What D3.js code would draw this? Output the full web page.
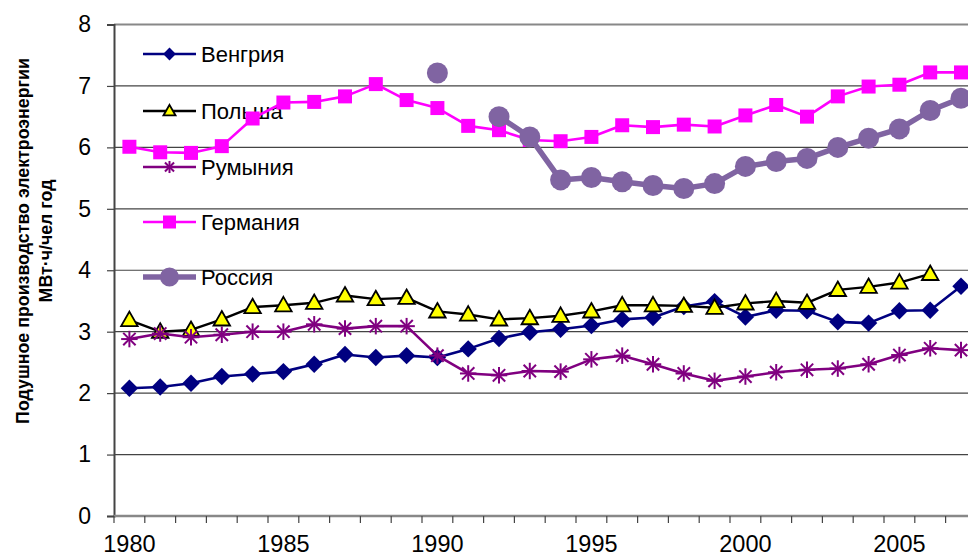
<!DOCTYPE html>
<html><head><meta charset="utf-8">
<script src="https://cdn.jsdelivr.net/npm/d3@7"></script>
<style>body{margin:0;background:#fff;} svg{display:block;}</style>
</head><body>
<svg id="c" width="968" height="558"></svg>
<script>
const years = d3.range(1980, 2008);
const hungary = [2.08,2.10,2.16,2.27,2.31,2.35,2.47,2.63,2.58,2.61,2.58,2.72,2.89,2.99,3.04,3.10,3.20,3.23,3.41,3.49,3.24,3.35,3.34,3.16,3.14,3.34,3.35,3.74];
const poland  = [3.19,3.00,3.03,3.20,3.40,3.43,3.47,3.59,3.53,3.55,3.33,3.28,3.20,3.22,3.26,3.33,3.43,3.43,3.42,3.39,3.46,3.50,3.47,3.68,3.73,3.80,3.94,null];
const romania = [2.88,2.97,2.91,2.95,3.00,3.00,3.12,3.05,3.09,3.09,2.61,2.32,2.29,2.36,2.35,2.55,2.61,2.47,2.32,2.20,2.27,2.34,2.38,2.40,2.47,2.62,2.73,2.70];
const germany = [6.01,5.92,5.91,6.02,6.47,6.73,6.74,6.83,7.03,6.77,6.64,6.35,6.28,6.12,6.10,6.17,6.36,6.33,6.37,6.34,6.52,6.69,6.50,6.83,6.99,7.02,7.22,7.22];
const russia  = [null,null,null,null,null,null,null,null,null,null,7.21,null,6.50,6.17,5.47,5.51,5.44,5.38,5.33,5.41,5.69,5.77,5.82,6.00,6.15,6.30,6.60,6.80];
const seriesNames = ["Венгрия","Польша","Румыния","Германия","Россия"];
const yTicks = [0,1,2,3,4,5,6,7,8];
const xLabelYears = [1980,1985,1990,1995,2000,2005];
const yTitle = ["Подушное производство электроэнергии","МВт·ч/чел год"];

const svg = d3.select("#c");
const font = "Liberation Sans, Arial, sans-serif";
const pLeft = 114, pTop = 24.5, pBottom = 516, step = 30.8;
const x = d3.scaleBand().domain(years).range([pLeft, pLeft + step*years.length]).paddingInner(0).paddingOuter(0);
const y = d3.scaleLinear().domain([0,8]).range([pBottom, pTop]);
const cx = yr => x(yr) + x.bandwidth()/2;

// gridlines
svg.append("g").selectAll("line").data(yTicks.filter(t=>t>0)).join("line")
  .attr("x1", pLeft).attr("x2", 968).attr("y1", d=>y(d)).attr("y2", d=>y(d))
  .attr("stroke", d=> d===8 ? "#888" : "#444").attr("stroke-width", d=> d===8?2.2:1.2);

// y axis
const ya = svg.append("g").attr("transform", `translate(${pLeft},0)`)
  .call(d3.axisLeft(y).tickValues(yTicks).tickSize(7).tickPadding(16).tickFormat(d3.format("d")));
ya.select(".domain").attr("stroke","#444").attr("stroke-width",2);
ya.selectAll(".tick line").attr("stroke","#444").attr("stroke-width",1.2);
ya.selectAll("text").attr("font-family", font).attr("font-size", 23).attr("fill","#000");

// x axis
const xg = svg.append("g").attr("transform", `translate(0,${pBottom})`);
xg.append("line").attr("x1", pLeft).attr("x2", 968).attr("y1",0).attr("y2",0).attr("stroke","#888").attr("stroke-width",2.5);
xg.selectAll("line.t").data(years).join("line").attr("class","t")
  .attr("x1", d=>x(d)).attr("x2", d=>x(d)).attr("y1",0).attr("y2",7).attr("stroke","#444").attr("stroke-width",1.2);
xg.selectAll("text").data(xLabelYears).join("text")
  .attr("x", d=>cx(d)).attr("y", 36).attr("text-anchor","middle")
  .attr("font-family", font).attr("font-size", 23.5).text(d=>d);

// y title
const tg = svg.append("g").attr("transform","translate(0,241) rotate(-90)");
tg.selectAll("text").data(yTitle).join("text")
  .attr("x",0).attr("y",(d,i)=> i===0 ? 29 : 52).attr("text-anchor","middle")
  .attr("font-family", font).attr("font-weight","bold").attr("font-size",17.8).text(d=>d);

// marker helper
function marker(g, type, px, py, s) {
  if (type==="diamond") {
    const r = s*0.58;
    g.append("path").attr("d", `M${px},${py-r}L${px+r},${py}L${px},${py+r}L${px-r},${py}Z`).attr("fill","#000080");
  } else if (type==="triangle") {
    const h = s*0.9;
    g.append("path").attr("d", `M${px},${py-h*0.62}L${px+s*0.55},${py+h*0.45}L${px-s*0.55},${py+h*0.45}Z`)
      .attr("fill","#ffff00").attr("stroke","#000").attr("stroke-width",1.8);
  } else if (type==="star") {
    const r = s*0.55;
    const p = g.append("g").attr("stroke","#800080").attr("stroke-width",2);
    p.append("line").attr("x1",px-r).attr("x2",px+r).attr("y1",py).attr("y2",py);
    p.append("line").attr("x1",px).attr("x2",px).attr("y1",py-r).attr("y2",py+r);
    const q = r*0.75;
    p.append("line").attr("x1",px-q).attr("x2",px+q).attr("y1",py-q).attr("y2",py+q);
    p.append("line").attr("x1",px-q).attr("x2",px+q).attr("y1",py+q).attr("y2",py-q);
  } else if (type==="square") {
    g.append("rect").attr("x",px-s/2).attr("y",py-s/2).attr("width",s).attr("height",s).attr("fill","#ff00ff");
  } else if (type==="circle") {
    g.append("circle").attr("cx",px).attr("cy",py).attr("r",s/2).attr("fill","#8064a2");
  }
}

const series = [
  {name: seriesNames[0], vals: hungary, color:"#000080", w:2.6, m:"diamond", s:15},
  {name: seriesNames[1], vals: poland,  color:"#000000", w:2.4, m:"triangle", s:15},
  {name: seriesNames[2], vals: romania, color:"#800080", w:2.6, m:"star", s:15},
  {name: seriesNames[3], vals: germany, color:"#ff00ff", w:2.6, m:"square", s:14},
  {name: seriesNames[4], vals: russia,  color:"#8064a2", w:5.5, m:"circle", s:21}
];

// legend
const legY = [54, 111, 167, 222, 277];
const lg = svg.append("g");
series.forEach((s,i)=>{
  const ly = legY[i];
  lg.append("line").attr("x1",143).attr("x2",196).attr("y1",ly).attr("y2",ly).attr("stroke",s.color).attr("stroke-width",s.w);
  marker(lg, s.m, 169.5, ly, s.m==="circle"?19:(s.m==="square"?13:11));
  lg.append("text").attr("x",201).attr("y",ly+8).attr("font-family",font).attr("font-size",22).text(s.name);
});

// series
const line = d3.line().defined(d=>d.v!==null).x(d=>cx(d.yr)).y(d=>y(d.v));
series.forEach(s=>{
  const data = years.map((yr,i)=>({yr, v:s.vals[i]}));
  const g = svg.append("g");
  g.append("path").datum(data).attr("d", line).attr("fill","none").attr("stroke",s.color)
    .attr("stroke-width",s.w).attr("stroke-linejoin","round");
  data.filter(d=>d.v!==null).forEach(d=>marker(g, s.m, cx(d.yr), y(d.v), s.s));
});
</script>
</body></html>
